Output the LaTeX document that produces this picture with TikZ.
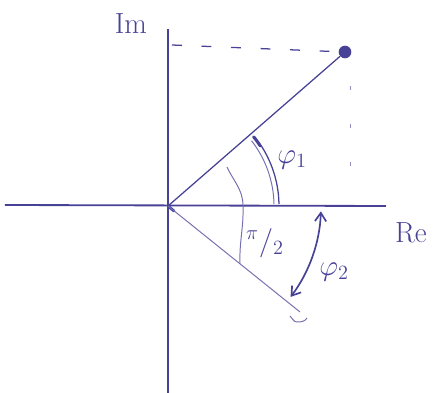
\documentclass[tikz,border=0pt]{standalone}
\usetikzlibrary{arrows.meta}
\definecolor{ink}{RGB}{72,66,150}
\begin{document}
\begin{tikzpicture}[x=0.025cm,y=0.025cm,
	axis/.style={ ink, line width=1.3pt },
	ray/.style={ ink, line width=0.9pt },
	faintray/.style={ ink!75, line width=0.7pt },
	helper/.style={ ink, line width=0.9pt, dash pattern=on 7pt off 14pt },
	dotline/.style={ ink!60, line width=0.7pt, dash pattern=on 3pt off 24pt },
	lbl/.style={ ink, inner sep=1pt },
	tip/.style={ circle, fill=ink, inner sep=0pt, minimum size=9pt }
]
\useasboundingbox (-168,-187) rectangle (267,206);

% axes
\coordinate (O) at (0,0);
\coordinate (xl) at (-163,1);
\coordinate (xr) at (218,0);
\coordinate (yt) at (0,177);
\coordinate (yb) at (0,-187);
\draw[axis] (xl) -- (xr);
\draw[axis] (yb) -- (yt);
\node at (-37,182) (im) [lbl] {\huge $\mathrm{Im}$};
\node at (243,-27) (re) [lbl] {\huge $\mathrm{Re}$};

% first ray, with its projections
\node at (177,154) (p1) [tip] {};
\coordinate (d1) at (4,161);
\coordinate (d2) at (182,120);
\coordinate (d3) at (182,18);
\draw[ray] (O) -- (p1);
\draw[helper] (d1) -- (p1);
\draw[dotline] (d2) -- (d3);
\draw[ink, line width=2pt, line cap=round] (O) -- (6,-5);

% second ray
\coordinate (p2) at (132,-106);
\draw[faintray] (O) -- (p2);
\coordinate (v1) at (122,-110);
\coordinate (v2) at (129,-116);
\coordinate (v3) at (139,-112);
\draw[faintray] (v1) to[out=-40,in=180] (v2) to[out=0,in=-120] (v3);

% angle phi_1
\draw[ray] (39:111) arc[start angle=39, end angle=1, radius=111];
\draw[faintray] (38:106) arc[start angle=38, end angle=1, radius=106];
\draw[ink, line width=2pt, line cap=round] (39:110) arc[start angle=39, end angle=33, radius=110];
\node at (124,46) (phi1) [lbl] {\huge $\varphi_{1}$};

% angle pi/2
\coordinate (a1) at (59,39);
\coordinate (a2) at (75,1);
\coordinate (a3) at (72,-58);
\draw[faintray] (a1) to[out=-65,in=92] (a2) to[out=-88,in=92] (a3);
\node at (97,-37) (half) [lbl] {\huge ${}^{\pi}/_{2}$};

% angle phi_2
\draw[ink, line width=1.2pt, {Straight Barb[length=6pt,width=8pt]}-{Straight Barb[length=6pt,width=8pt]}]
	(-2:153) arc[start angle=-2, end angle=-37, radius=151];
\node at (166,-66) (phi2) [lbl] {\huge $\varphi_{2}$};

\end{tikzpicture}
\end{document}
